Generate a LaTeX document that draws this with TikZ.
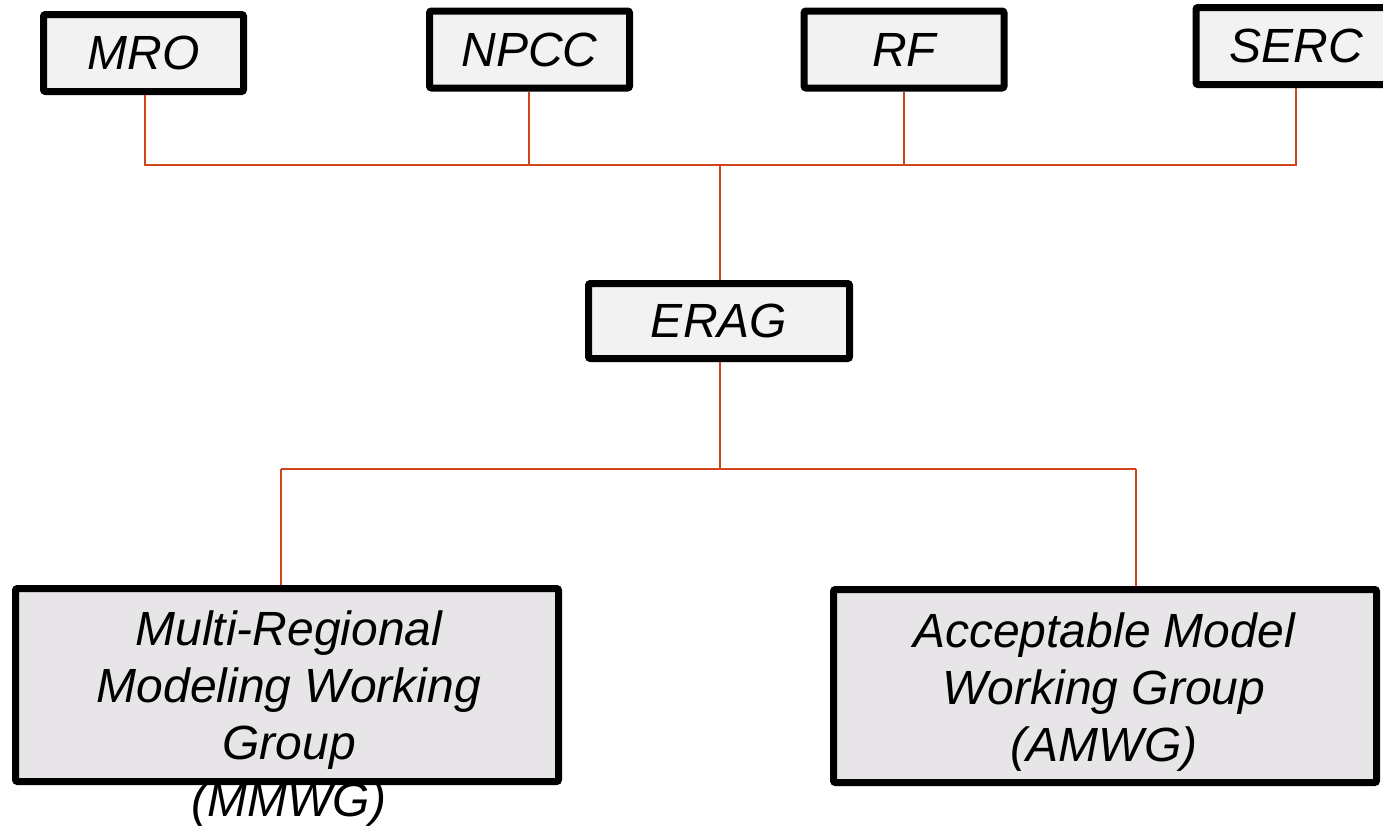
\documentclass[tikz,border=0pt]{standalone}
\usepackage{fontspec}
\setmainfont{Liberation Sans}
\definecolor{conn}{HTML}{D0451B}
\definecolor{topfill}{HTML}{F2F2F2}
\definecolor{botfill}{HTML}{E7E5E7}
\tikzset{
  topbox/.style={draw=black, line width=7pt, fill=topfill, rounded corners=2pt, inner sep=0pt,
    minimum width=200pt, minimum height=77pt, font=\fontsize{48}{57}\selectfont\itshape},
  ergbox/.style={topbox, minimum width=261pt, minimum height=75pt},
  botbox/.style={draw=black, line width=7pt, fill=botfill, rounded corners=2pt, inner sep=0pt,
    minimum width=543pt, minimum height=193pt},
  bottxt/.style={align=center, inner sep=0pt, font=\fontsize{48}{57}\selectfont\itshape},
  link/.style={draw=conn, line width=1.6pt}
}
\begin{document}
\begin{tikzpicture}[x=1pt,y=-1pt]
\useasboundingbox (0,0) rectangle (1383,827);
\clip (0,0) rectangle (1383,827);
% top boxes
\node[topbox] (mro)  at (143.5,53)  {MRO};
\node[topbox] (npcc) at (529.5,49.5) {NPCC};
\node[topbox] (rf)   at (904,49.5)  {RF};
\node[topbox] (serc) at (1296,46)   {SERC};
\node[ergbox] (erag) at (719,321)   {ERAG};
% bottom boxes
\node[botbox] (mmwg) at (287,685) {};
\node[botbox] (amwg) at (1105,686) {};
\node[bottxt, anchor=base] (mmwgt) at (289,816) {Multi-Regional\\Modeling Working\\Group\\(MMWG)};
\node[bottxt, anchor=base] (amwgt) at (1104,761) {Acceptable Model\\Working Group\\(AMWG)};
% junction coordinates
\coordinate (j1) at (145,165);
\coordinate (j2) at (529,165);
\coordinate (j3) at (904,165);
\coordinate (j4) at (1296,165);
\coordinate (jt) at (720,165);
\coordinate (jb) at (720,469);
\coordinate (jl) at (281,469);
\coordinate (jr) at (1136,469);
% connectors
\path[link] (mro.south -| j1) -- (j1) -- (j4) -- (serc.south -| j4);
\path[link] (npcc.south -| j2) -- (j2);
\path[link] (rf.south -| j3) -- (j3);
\path[link] (jt) -- (erag.north -| jt);
\path[link] (erag.south -| jb) -- (jb);
\path[link] (jl) -- (jr);
\path[link] (jl) -- (mmwg.north -| jl);
\path[link] (jr) -- (amwg.north -| jr);
\end{tikzpicture}
\end{document}
